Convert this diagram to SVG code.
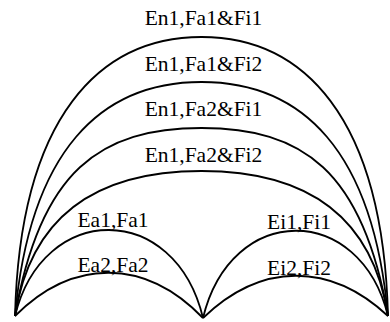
<svg xmlns="http://www.w3.org/2000/svg" width="390" height="322" viewBox="0 0 390 322">
<style>
.arc{fill:none;stroke:#000;stroke-width:1.8;stroke-linejoin:round}
.lbl{font-family:"Liberation Serif","Times New Roman",serif;font-size:21.5px;fill:#000;text-anchor:middle}
</style>
<rect width="390" height="322" fill="#fff"/>
<g id="en1-fa1-fi1">
<path class="arc" d="M15,316 C20,115 101,37 201.5,37 C302,37 383,115 388,316"/>
<text class="lbl" x="203.5" y="24.5">En1,Fa1&amp;Fi1</text>
</g>
<g id="en1-fa1-fi2">
<path class="arc" d="M15,316 C30,150 101,82 201.5,82 C302,82 373,150 388,316"/>
<text class="lbl" x="203.5" y="70.5">En1,Fa1&amp;Fi2</text>
</g>
<g id="en1-fa2-fi1">
<path class="arc" d="M15,316 C40,170 101,128 201.5,128 C302,128 363,170 388,316"/>
<text class="lbl" x="203.5" y="116">En1,Fa2&amp;Fi1</text>
</g>
<g id="en1-fa2-fi2">
<path class="arc" d="M15,316 C30,220 91,171 201.5,171 C312,171 373,220 388,316"/>
<text class="lbl" x="203.5" y="161.5">En1,Fa2&amp;Fi2</text>
</g>
<g id="ea1-fa1">
<path class="arc" d="M15,316 C43,201 175,201 203,318"/>
<text class="lbl" x="113" y="226.5">Ea1,Fa1</text>
</g>
<g id="ea2-fa2">
<path class="arc" d="M15,316 C73,258 145,258 203,318"/>
<text class="lbl" x="113" y="271.5">Ea2,Fa2</text>
</g>
<g id="ei1-fi1">
<path class="arc" d="M203,318 C231,202 360,202 388,316"/>
<text class="lbl" x="299" y="229">Ei1,Fi1</text>
</g>
<g id="ei2-fi2">
<path class="arc" d="M203,318 C261,262 330,262 388,316"/>
<text class="lbl" x="299" y="275">Ei2,Fi2</text>
</g>
</svg>
